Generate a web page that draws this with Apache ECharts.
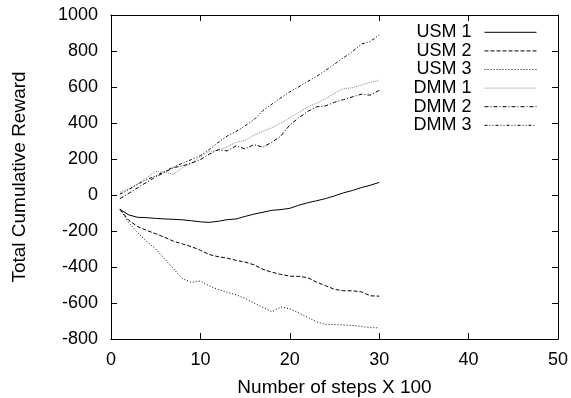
<!DOCTYPE html>
<html>
<head>
<meta charset="utf-8">
<script src="https://cdn.jsdelivr.net/npm/echarts@6/dist/echarts.min.js"></script>
<style>
  html, body { margin: 0; padding: 0; background: #fff; }
  #chart { width: 571px; height: 398px; }
</style>
</head>
<body>
<div id="chart"></div>
<script>
// steps (x 100)
const steps = [1,2,3,4,5,6,7,8,9,10,11,12,13,14,15,16,17,18,19,20,21,22,23,24,25,26,27,28,29,30];

const usm1 = [-80,-111,-124,-126,-130,-133,-135,-138,-143,-149,-152,-146,-137,-133,-119,-106,-96,-85,-81,-74,-57,-43,-32,-20,-5,12,25,41,54,70];
const usm2 = [-80,-141,-176,-197,-215,-235,-257,-272,-287,-307,-331,-343,-351,-363,-373,-388,-413,-429,-441,-451,-452,-459,-484,-504,-524,-532,-532,-538,-560,-562];
const usm3 = [-78,-155,-210,-258,-300,-355,-410,-465,-485,-478,-505,-525,-540,-555,-575,-600,-625,-648,-622,-632,-655,-680,-705,-718,-720,-722,-725,-730,-737,-738];
const dmm1 = [15,36,61,96,131,126,116,152,177,212,243,248,268,293,303,333,353,374,399,429,459,490,510,535,565,591,596,611,626,636];
const dmm2 = [-20,10,41,71,101,126,152,162,177,197,227,252,245,273,256,280,266,293,328,389,429,464,490,495,515,530,545,560,555,581];
const dmm3 = [5,30,61,86,106,131,155,177,197,219,253,293,328,353,384,419,469,505,540,573,601,631,659,692,727,762,797,838,853,888];

const xTicks = [0, 10, 20, 30, 40, 50];
const yTicks = [-800, -600, -400, -200, 0, 200, 400, 600, 800, 1000];

const FONT = "Liberation Sans";
const chart = echarts.init(document.getElementById("chart"), null, { renderer: "canvas" });

const pairs = (ys) => steps.map((x, i) => [x, ys[i]]);

const mk = (name, ys, color, type) => ({
  name,
  type: "line",
  data: pairs(ys),
  symbol: "none",
  xAxisIndex: 0,
  yAxisIndex: 0,
  lineStyle: { color, width: 1, type },
  itemStyle: { color },
  animation: false,
});

const tickAxis = {
  axisLine: { show: true, onZero: false, lineStyle: { color: "#000", width: 1 } },
  axisTick: { show: true, inside: true, length: 6, lineStyle: { color: "#000", width: 1 } },
  splitLine: { show: false },
};

chart.setOption({
  backgroundColor: "#fff",
  animation: false,
  textStyle: { fontFamily: FONT },
  grid: {
    left: 111, right: 13, top: 15, bottom: 59, containLabel: false, outerBoundsMode: "none",
  },
  legend: {
    orient: "vertical",
    right: 29,
    top: 18,
    align: "right",
    itemWidth: 52,
    itemHeight: 10,
    itemGap: 0,
    itemStyle: { opacity: 0 },
    lineStyle: { width: 1 },
    textStyle: { fontFamily: FONT, fontSize: 18, color: "#000", lineHeight: 18.6, padding: [0, 8, 0, 0] },
    data: ["USM 1", "USM 2", "USM 3", "DMM 1", "DMM 2", "DMM 3"],
  },
  xAxis: [
    {
      type: "value", position: "bottom", min: xTicks[0], max: xTicks[xTicks.length - 1], interval: 10,
      name: "Number of steps X 100", nameLocation: "middle", nameGap: 39,
      nameTextStyle: { fontFamily: FONT, fontSize: 19, color: "#000" },
      axisLabel: { color: "#000", fontSize: 18, fontFamily: FONT, margin: 12 },
      ...tickAxis,
    },
    {
      type: "value", position: "top", min: xTicks[0], max: xTicks[xTicks.length - 1], interval: 10,
      axisLabel: { show: false },
      ...tickAxis,
    },
  ],
  yAxis: [
    {
      type: "value", position: "left", min: yTicks[0], max: yTicks[yTicks.length - 1], interval: 200,
      name: "Total Cumulative Reward", nameLocation: "middle", nameGap: 82, nameRotate: 90,
      nameTextStyle: { fontFamily: FONT, fontSize: 19, color: "#000" },
      axisLabel: { color: "#000", fontSize: 18, fontFamily: FONT, margin: 13, formatter: (v) => String(v) },
      ...tickAxis,
    },
    {
      type: "value", position: "right", min: yTicks[0], max: yTicks[yTicks.length - 1], interval: 200,
      axisLabel: { show: false },
      ...tickAxis,
    },
  ],
  series: [
    mk("USM 1", usm1, "#000", "solid"),
    mk("USM 2", usm2, "#000", [4, 2]),
    mk("USM 3", usm3, "#000", [1, 2]),
    mk("DMM 1", dmm1, "#8a8a8a", [1, 1]),
    mk("DMM 2", dmm2, "#000", [4, 2, 1, 2]),
    mk("DMM 3", dmm3, "#000", [3, 2, 1, 2, 1, 2]),
    // invisible series so the mirrored top/right axes get drawn
    {
      type: "line", data: [[xTicks[0], yTicks[0]]], xAxisIndex: 1, yAxisIndex: 1,
      symbol: "none", silent: true, lineStyle: { opacity: 0 },
    },
  ],
});
</script>
</body>
</html>
